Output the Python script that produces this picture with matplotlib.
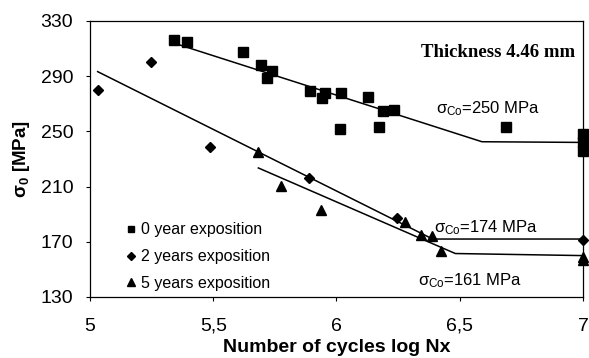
import matplotlib
matplotlib.use("Agg")
import matplotlib.pyplot as plt

plt.rcParams['font.family'] = ['Liberation Sans', 'DejaVu Sans']
plt.rcParams['mathtext.fontset'] = 'custom'
plt.rcParams['mathtext.rm'] = 'Liberation Sans'
plt.rcParams['mathtext.default'] = 'regular'

# measured points, log Nx vs sigma_0 [MPa]
x_0y = [5.34, 5.395, 5.62, 5.695, 5.717, 5.739, 5.893, 5.94, 5.954, 6.019,
        6.015, 6.128, 6.172, 6.188, 6.235, 6.687, 7.0, 7.0, 7.0]
y_0y = [316, 315, 307.5, 298, 289, 293.5, 279.3, 274.2, 277.8, 278.1,
        251.7, 275.2, 253.2, 264.6, 265.3, 253, 248, 242, 236]

x_2y = [5.031, 5.248, 5.487, 5.89, 6.247, 7.0]
y_2y = [280.3, 300.1, 238.7, 216.5, 187.5, 171.6]

x_5y = [5.683, 5.775, 5.936, 6.279, 6.343, 6.386, 6.425, 7.0, 7.0]
y_5y = [235.1, 210.2, 193.3, 184.4, 175.2, 174.0, 163.3, 159, 157]

# fitted curves (sloped part + fatigue limit)
fit_0y_x = [5.34, 6.59, 7.0]
fit_0y_y = [314, 242.5, 242]
fit_2y_x = [5.031, 6.39, 7.0]
fit_2y_y = [293.3, 172, 172]
fit_5y_x = [5.683, 6.482, 7.0]
fit_5y_y = [223.5, 161.5, 160]

x_ticks = [5, 5.5, 6, 6.5, 7]
x_tick_labels = ['5', '5,5', '6', '6,5', '7']
y_ticks = [130, 170, 210, 250, 290, 330]


def plot():
    fig = plt.figure(figsize=(5.89, 3.58), dpi=100)
    ax = fig.add_axes([0.1528, 0.1704, 0.837, 0.771])

    ax.plot(fit_0y_x, fit_0y_y, color='black', linewidth=1.1)
    ax.plot(fit_2y_x, fit_2y_y, color='black', linewidth=1.1)
    ax.plot(fit_5y_x, fit_5y_y, color='black', linewidth=1.1)

    ax.plot(x_0y, y_0y, 's', color='black', markersize=6.5, clip_on=False,
            label='0 year exposition')
    ax.plot(x_2y, y_2y, 'D', color='black', markersize=5, clip_on=False,
            label='2 years exposition')
    ax.plot(x_5y, y_5y, '^', color='black', markersize=7, clip_on=False,
            label='5 years exposition')

    ax.set_xlim(5, 7)
    ax.set_ylim(130, 330)
    ax.set_xticks(x_ticks)
    ax.set_xticklabels(x_tick_labels)
    ax.set_yticks(y_ticks)
    ax.tick_params(labelsize=14, length=3, width=0.8, direction='out')
    ax.tick_params(axis='x', pad=12)
    ax.tick_params(axis='y', pad=9)
    for s in ax.spines.values():
        s.set_linewidth(0.9)

    ax.set_xlabel('Number of cycles log Nx', fontsize=14, fontweight='bold',
                  labelpad=3)
    ax.set_ylabel('σ$_0$ [MPa]', fontsize=13.5, fontweight='bold', labelpad=6)

    ax.text(6.97, 307.5, 'Thickness 4.46 mm', family='Liberation Serif',
            fontweight='bold', fontsize=13.5, ha='right', va='center')
    ax.text(6.405, 266.5, 'σ$_{Co}$=250 MPa', fontsize=12, va='center')
    ax.text(6.395, 180.6, 'σ$_{Co}$=174 MPa', fontsize=12, va='center')
    ax.text(6.33, 142.1, 'σ$_{Co}$=161 MPa', fontsize=12, va='center')

    ax.legend(loc='lower left', bbox_to_anchor=(0.058, -0.007),
              frameon=False, fontsize=11.5, handlelength=0.6,
              handletextpad=0.3, labelspacing=0.74, markerscale=0.75,
              borderaxespad=0.1)

    fig.savefig('out.png', dpi=100)


if __name__ == '__main__':
    plot()
